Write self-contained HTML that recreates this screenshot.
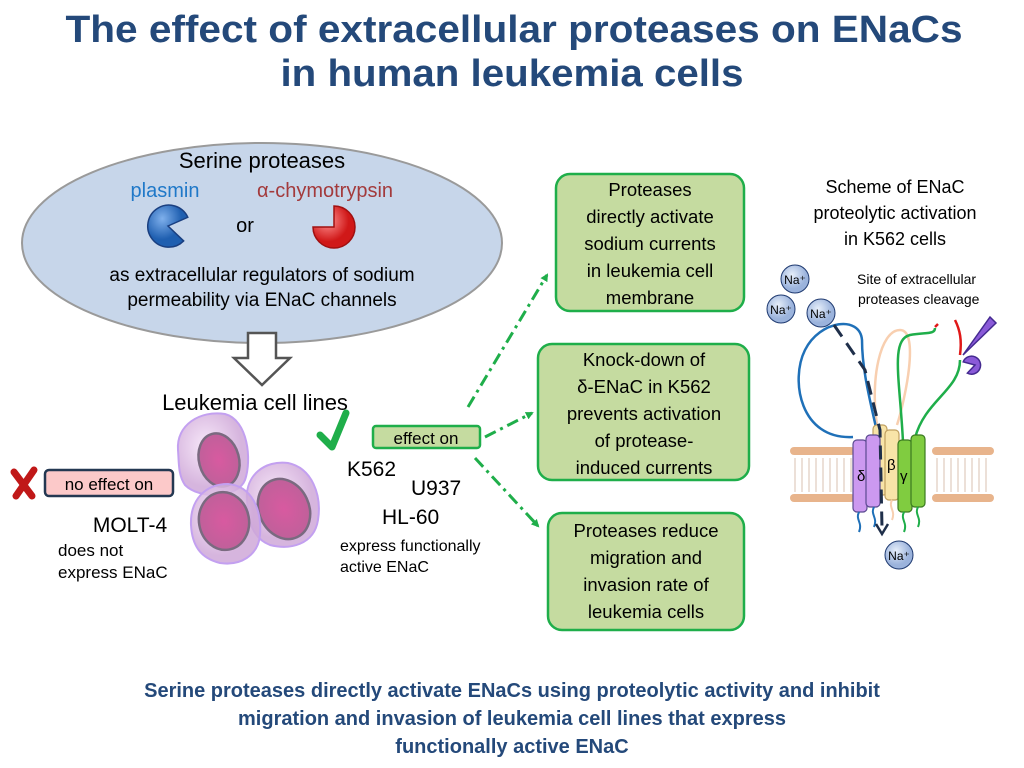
<!DOCTYPE html>
<html><head><meta charset="utf-8"><style>html,body{margin:0;padding:0;background:#fff}svg{display:block}</style></head>
<body>
<svg width="1024" height="768" viewBox="0 0 1024 768" xmlns="http://www.w3.org/2000/svg" font-family="Liberation Sans, sans-serif">
<defs>
<radialGradient id="bl" cx="35%" cy="35%"><stop offset="0" stop-color="#7fb0ec"/><stop offset="1" stop-color="#1f5fb0"/></radialGradient>
<radialGradient id="rd" cx="35%" cy="35%"><stop offset="0" stop-color="#ff9090"/><stop offset="1" stop-color="#d01818"/></radialGradient>
<radialGradient id="cell" cx="40%" cy="40%"><stop offset="0" stop-color="#f6e4f8" stop-opacity="0.85"/><stop offset="1" stop-color="#cfa8d8" stop-opacity="0.85"/></radialGradient>
<radialGradient id="nuc" cx="50%" cy="50%"><stop offset="0" stop-color="#d85aa0"/><stop offset="1" stop-color="#c0609a"/></radialGradient>
<radialGradient id="na" cx="40%" cy="35%"><stop offset="0" stop-color="#e6eefa"/><stop offset="1" stop-color="#9bb3dc"/></radialGradient>
<marker id="ah" markerWidth="8" markerHeight="8" refX="6" refY="4" orient="auto" markerUnits="userSpaceOnUse"><path d="M0,0 L8,4 L0,8 Z" fill="#1fae4a"/></marker>
</defs>
<g fill="#24497a" font-weight="bold" font-size="38" text-anchor="middle">
<text x="514" y="42" textLength="897" lengthAdjust="spacingAndGlyphs">The effect of extracellular proteases on ENaCs</text>
<text x="512" y="86" textLength="463" lengthAdjust="spacingAndGlyphs">in human leukemia cells</text>
</g>
<ellipse cx="262" cy="243" rx="240" ry="100" fill="#c7d6ea" stroke="#9a9a9a" stroke-width="2"/>
<text x="262" y="168" font-size="22" text-anchor="middle">Serine proteases</text>
<text x="165" y="197" font-size="20" fill="#1f78c8" text-anchor="middle">plasmin</text>
<text x="325" y="197" font-size="20" fill="#a33a3c" text-anchor="middle">α-chymotrypsin</text>
<text x="245" y="232" font-size="20" text-anchor="middle">or</text>
<path d="M168,226 L186,214 A21,21 0 1 0 186,238 Z" fill="url(#bl)" stroke="#1a3f80" stroke-width="1.5" transform="rotate(10 168 226)"/>
<path d="M334,227 L334,206 A21,21 0 1 1 313,227 Z" fill="url(#rd)" stroke="#a01010" stroke-width="1.5"/>
<text x="262" y="281" font-size="19" text-anchor="middle">as extracellular regulators of sodium</text>
<text x="262" y="306" font-size="19" text-anchor="middle">permeability via ENaC channels</text>
<path d="M248,333 L276,333 L276,358 L290,358 L262,385 L234,358 L248,358 Z" fill="#fff" stroke="#555" stroke-width="2.5"/>
<text x="255" y="410" font-size="22" text-anchor="middle">Leukemia cell lines</text>
<!-- cells -->
<g stroke="#c3a0f0" stroke-width="2">
<path d="M178,450 C176,425 200,410 225,414 C248,420 252,460 245,480 C238,498 200,500 185,485 C178,475 179,462 178,450Z" fill="url(#cell)"/>
<ellipse cx="219" cy="460" rx="20" ry="27" fill="url(#nuc)" stroke="#7a6a80" stroke-width="2.5" transform="rotate(-15 219 460)"/>
<path d="M247,500 C245,475 265,460 288,463 C312,468 322,495 318,520 C314,545 290,550 270,545 C252,538 248,520 247,500Z" fill="url(#cell)"/>
<ellipse cx="284" cy="509" rx="25" ry="31" fill="url(#nuc)" stroke="#7a6a80" stroke-width="2.5" transform="rotate(-25 284 509)"/>
<path d="M191,525 C190,500 205,484 228,484 C252,486 262,510 260,535 C258,556 240,566 220,563 C200,558 192,545 191,525Z" fill="url(#cell)"/>
<ellipse cx="224" cy="521" rx="25" ry="29" fill="url(#nuc)" stroke="#7a6a80" stroke-width="2.5" transform="rotate(-10 224 521)"/>
</g>
<!-- no effect -->
<path d="M14,472 L32,496 M34,470 L16,496" stroke="#c01818" stroke-width="7" stroke-linecap="round"/>
<rect x="45" y="470" width="128" height="26" rx="4" fill="#fcc9c9" stroke="#243852" stroke-width="2.5"/>
<text x="109" y="490" font-size="17" text-anchor="middle">no effect on</text>
<text x="130" y="532" font-size="21" text-anchor="middle">MOLT-4</text>
<text x="58" y="556" font-size="17">does not</text>
<text x="58" y="578" font-size="17">express ENaC</text>
<!-- effect on -->
<path d="M320,435 L332,447 L346,413" fill="none" stroke="#1fae4a" stroke-width="7" stroke-linecap="round" stroke-linejoin="round"/>
<rect x="373" y="426" width="107" height="22" rx="3" fill="#c5dba0" stroke="#1fae4a" stroke-width="2.5"/>
<text x="426" y="444" font-size="17" text-anchor="middle">effect on</text>
<text x="347" y="476" font-size="21">K562</text>
<text x="411" y="495" font-size="21">U937</text>
<text x="382" y="524" font-size="21">HL-60</text>
<text x="340" y="551" font-size="16">express functionally</text>
<text x="340" y="572" font-size="16">active ENaC</text>
<!-- arrows -->
<g stroke="#1fae4a" stroke-width="3" fill="none" stroke-dasharray="12,5,3,5" marker-end="url(#ah)">
<path d="M468,407 L547,275"/>
<path d="M485,437 L532,413"/>
<path d="M475,458 L538,526"/>
</g>
<!-- boxes -->
<g fill="#c5dba0" stroke="#1fae4a" stroke-width="2.5">
<rect x="556" y="174" width="188" height="137" rx="14"/>
<rect x="538" y="344" width="211" height="136" rx="14"/>
<rect x="548" y="513" width="196" height="117" rx="14"/>
</g>
<g font-size="18.5" text-anchor="middle">
<text x="650" y="196">Proteases</text><text x="650" y="223">directly activate</text><text x="650" y="250">sodium currents</text><text x="650" y="277">in leukemia cell</text><text x="650" y="304">membrane</text>
<text x="644" y="366">Knock-down of</text><text x="644" y="393">δ-ENaC in K562</text><text x="644" y="420">prevents activation</text><text x="644" y="447">of  protease-</text><text x="644" y="474">induced currents</text>
<text x="646" y="537">Proteases reduce</text><text x="646" y="564">migration and</text><text x="646" y="591">invasion rate of</text><text x="646" y="618">leukemia cells</text>
</g>
<!-- right scheme -->
<g font-size="18" text-anchor="middle"><text x="895" y="193">Scheme of ENaC</text><text x="895" y="219">proteolytic activation</text><text x="895" y="245">in K562 cells</text></g>
<text x="857" y="284" font-size="14">Site of extracellular</text>
<text x="858" y="304" font-size="14">proteases cleavage</text>
<!-- membrane -->
<g fill="#e8b48c">
<rect x="790" y="447" width="65" height="8" rx="4"/><rect x="790" y="494" width="65" height="8" rx="4"/>
<rect x="932" y="447" width="62" height="8" rx="4"/><rect x="932" y="494" width="62" height="8" rx="4"/>
</g>
<g stroke="#d8c0b0" stroke-width="1"><path d="M795,458 v34 M802,458 v34 M809,458 v34 M816,458 v34 M823,458 v34 M830,458 v34 M837,458 v34 M844,458 v34 M851,458 v34 M937,458 v34 M944,458 v34 M951,458 v34 M958,458 v34 M965,458 v34 M972,458 v34 M979,458 v34 M986,458 v34"/></g>
<!-- loops -->
<path d="M877,425 C870,380 880,330 900,330 C920,330 905,400 897,425" fill="none" stroke="#f8cfb0" stroke-width="2.5"/>
<path d="M853,437 C800,440 790,380 805,350 C820,320 860,315 862,340 C862,370 870,400 877,432" fill="none" stroke="#1f70b8" stroke-width="2.5"/>
<path d="M903,442 C900,380 890,340 910,335 C925,332 935,335 935,328" fill="none" stroke="#1fae4a" stroke-width="2.5"/>
<path d="M915,438 C925,400 960,390 960,360" fill="none" stroke="#1fae4a" stroke-width="2.5"/>
<path d="M960,355 C962,340 960,330 955,320" fill="none" stroke="#e01818" stroke-width="2.5"/>
<path d="M935,327 l3,-3" stroke="#e01818" stroke-width="2.5"/>
<path d="M963,355 L990,317 L996,323 Z" fill="#8a5ad8" stroke="#442a90" stroke-width="1.5"/>
<path d="M975,365 L985,360 A9,9 0 1 0 985,372 Z" fill="#8a5ad8" stroke="#442a90" stroke-width="1.5" transform="rotate(160 975 365)"/>
<!-- cylinders -->
<g stroke-width="1.2">
<rect x="873" y="425" width="14" height="70" rx="4" fill="#f8e4a8" stroke="#c0a060"/>
<rect x="885" y="430" width="14" height="70" rx="4" fill="#f8e4a8" stroke="#c0a060"/>
<rect x="853" y="440" width="14" height="72" rx="4" fill="#cc99f0" stroke="#5a4a90"/>
<rect x="866" y="435" width="14" height="72" rx="4" fill="#cc99f0" stroke="#5a4a90"/>
<rect x="898" y="440" width="14" height="72" rx="4" fill="#80cc40" stroke="#3a7a20"/>
<rect x="911" y="435" width="14" height="72" rx="4" fill="#80cc40" stroke="#3a7a20"/>
</g>
<text x="857" y="481" font-size="15">δ</text><text x="887" y="470" font-size="15">β</text><text x="900" y="481" font-size="15">γ</text>
<g fill="none" stroke-width="2">
<path d="M859,512 c-4,8 4,10 0,20" stroke="#1f70b8"/><path d="M874,507 c-4,8 4,10 0,20" stroke="#1f70b8"/>
<path d="M904,512 c-4,8 4,10 0,20" stroke="#1fae4a"/><path d="M918,507 c-4,8 4,10 0,20" stroke="#1fae4a"/>
<path d="M892,500 c-4,8 4,10 0,20" stroke="#f8cfb0"/>
</g>
<path d="M834,325 L865,370 L880,430 L882,528" fill="none" stroke="#1f2f4a" stroke-width="3" stroke-dasharray="14,8"/>
<path d="M876,524 L882,534 L888,524" fill="none" stroke="#1f2f4a" stroke-width="2.5"/>
<g stroke="#1f3a70" stroke-width="1" fill="url(#na)">
<circle cx="795" cy="279" r="14"/><circle cx="781" cy="309" r="14"/><circle cx="821" cy="313" r="14"/><circle cx="899" cy="555" r="14"/>
</g>
<g font-size="12" text-anchor="middle"><text x="795" y="284">Na⁺</text><text x="781" y="314">Na⁺</text><text x="821" y="318">Na⁺</text><text x="899" y="560">Na⁺</text></g>
<g fill="#24497a" font-weight="bold" font-size="20" text-anchor="middle">
<text x="512" y="697">Serine proteases directly activate ENaCs using proteolytic activity and inhibit</text>
<text x="512" y="725">migration and invasion of leukemia cell lines that express</text>
<text x="512" y="753">functionally active ENaC</text>
</g>
</svg>
</body></html>
